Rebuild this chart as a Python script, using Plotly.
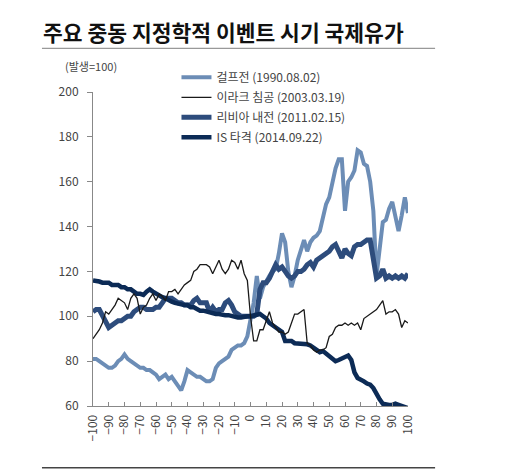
# 주요 중동 지정학적 이벤트 시기 국제유가 (발생일 = 100)
import plotly.graph_objects as go

# 발생일 기준 경과일 (2일 간격)
days = list(range(-100, 101, 2))

# 걸프전 (1990.08.02)
gulf = [
    81, 81, 80, 79, 78, 77, 77, 78, 80, 81,
    83, 81, 80, 79, 78, 77, 77, 76, 76, 75,
    74, 72, 73, 74, 72, 73, 71, 69, 67, 71,
    76, 75, 74, 73, 73, 72, 71, 71, 72, 77,
    79, 80, 81, 82, 85, 86, 87, 87, 88, 91,
    98, 106, 118, 108, 113, 116, 118, 120, 121, 128,
    137, 133, 120, 113, 118, 125, 130, 134, 129, 133,
    135, 136, 138, 145, 150, 153, 160, 166, 170, 170,
    147, 160, 162, 165, 174, 173, 168, 167, 160, 147,
    118, 129, 142, 143, 148, 151, 145, 138, 145, 153,
    146,
]

# 이라크 침공 (2003.03.19)
iraq = [
    90, 92, 94, 97, 102, 101, 103, 105, 108, 107,
    106, 103, 108, 110, 108, 101, 104, 105, 108, 110,
    107, 110, 109, 107, 111, 111, 112, 110, 112, 114,
    115, 116, 120, 121, 123, 123, 123, 122, 119, 122,
    125, 121, 119, 121, 125, 124, 121, 125, 119, 116,
    100, 89, 89, 94, 94, 98, 102, 97, 95, 93,
    93, 92, 93, 97, 101, 101, 102, 103, 88, 87,
    85, 84, 85, 85, 86, 91, 92, 95, 96, 96,
    97, 96, 97, 96, 97, 94, 99, 100, 101, 102,
    103, 105, 107, 101, 102, 102, 103, 101, 95, 98,
    97,
]

# 리비아 내전 (2011.02.15)
libya = [
    102, 103, 103, 100, 97, 95, 96, 97, 98, 98,
    99, 100, 100, 102, 103, 104, 104, 103, 103, 103,
    104, 104, 106, 108, 108, 108, 107, 106, 106, 105,
    105, 105, 107, 108, 106, 106, 106, 102, 104, 102,
    103, 103, 106, 107, 105, 102, 101, 100, 100, 100,
    100, 100, 101, 112, 115, 115, 117, 120, 123, 121,
    122, 120, 118, 117, 118, 120, 120, 121, 123, 124,
    122, 125, 126, 127, 128, 129, 131, 132, 129, 126,
    130, 128, 127, 131, 132, 132, 133, 134, 134, 124,
    117, 118, 121, 117, 118, 117, 118, 117, 118, 117,
    119,
]

# IS 타격 (2014.09.22)
isis = [
    116, 116, 115.5, 115, 115, 115, 114, 114, 114, 113,
    113, 112, 112, 111, 110, 110, 109.5, 111, 112, 111,
    110, 109, 108.5, 108, 107, 106.5, 106, 105.5, 105.5, 105,
    105, 104, 104, 103, 102.5, 102.5, 102, 102, 101.5, 101,
    101, 100.5, 100.5, 100.5, 100, 100, 99.5, 99.5, 100, 100,
    100, 100.5, 101, 101, 100, 99, 97, 96, 95, 94,
    93, 89, 89, 89, 88, 88, 87.5, 87.5, 87.5, 87,
    86, 85, 84, 84.5, 83.5, 82.5, 81, 80, 80.5, 81,
    81.5, 82.5, 80.5, 75, 72.5, 72, 71, 70, 69.5, 68,
    65, 63, 61, 60.5, 60.5, 60.5, 61, 60.5, 60, 59.5,
    59,
]

fig = go.Figure()

# 그리는 순서: 굵은 선 먼저, 검은 가는 선은 맨 위
fig.add_trace(go.Scatter(x=days, y=gulf, mode="lines", name="걸프전 (1990.08.02)",
                         line=dict(color="#6C8DB6", width=4),
                         legendgroup="g1", legendrank=1))
fig.add_trace(go.Scatter(x=days, y=libya, mode="lines", name="리비아 내전 (2011.02.15)",
                         line=dict(color="#2D4C7C", width=5),
                         legendgroup="g3", legendrank=3))
fig.add_trace(go.Scatter(x=days, y=isis, mode="lines", name="IS 타격 (2014.09.22)",
                         line=dict(color="#0C2B56", width=4.5),
                         legendgroup="g4", legendrank=4))
fig.add_trace(go.Scatter(x=days, y=iraq, mode="lines", name="이라크 침공 (2003.03.19)",
                         line=dict(color="#1A1A1A", width=1.3),
                         legendgroup="g2", legendrank=2))

font_kr = "Noto Sans CJK KR"

# 페이지 기본 여백(8px)만큼 그림을 작게 잡음
fig.update_layout(
    width=500,
    height=462,
    margin=dict(l=85, r=100, t=84, b=64, autoexpand=False),
    paper_bgcolor="white",
    plot_bgcolor="white",
    font=dict(family=font_kr, size=12, color="#444"),
    showlegend=True,
    legend=dict(
        x=0.265, y=1.093, xanchor="left", yanchor="top",
        bgcolor="rgba(0,0,0,0)",
        font=dict(size=12, color="#444"),
        traceorder="grouped",
        tracegroupgap=1,
    ),
    xaxis=dict(
        range=[-100, 100],
        tickmode="linear", tick0=-100, dtick=10,
        tickangle=-90,
        ticks="inside", ticklen=4, tickcolor="#888",
        ticklabelstandoff=3,
        showline=True, linecolor="#888", linewidth=1,
        showgrid=False, zeroline=False,
        tickfont=dict(size=12, color="#444"),
    ),
    yaxis=dict(
        range=[60, 200],
        tickmode="linear", tick0=60, dtick=20,
        ticks="outside", ticklen=5, tickcolor="#888",
        ticklabelstandoff=6,
        showline=True, linecolor="#888", linewidth=1,
        showgrid=False, zeroline=False,
        tickfont=dict(size=12, color="#444"),
    ),
    annotations=[
        dict(text="<b>주요 중동 지정학적 이벤트 시기 국제유가</b>",
             xref="paper", yref="paper", x=-0.165, y=1.194,
             xanchor="left", yanchor="middle", showarrow=False,
             font=dict(family=font_kr, size=21.5, color="#111")),
        dict(text="(발생=100)",
             xref="paper", yref="paper", x=-0.095, y=1.083,
             xanchor="left", yanchor="middle", showarrow=False,
             font=dict(family=font_kr, size=11, color="#444")),
    ],
    shapes=[
        # 제목 아래 구분선
        dict(type="line", xref="paper", yref="paper",
             x0=-0.162, x1=1.086, y0=1.139, y1=1.139,
             line=dict(color="#999", width=1.2)),
        # 하단 구분선
        dict(type="line", xref="paper", yref="paper",
             x0=-0.162, x1=1.086, y0=-0.197, y1=-0.197,
             line=dict(color="#444", width=1.5)),
        # 오른쪽 회색 띠
        dict(type="rect", xref="paper", yref="paper",
             x0=1.298, x1=1.33, y0=-0.25, y1=1.3,
             fillcolor="#E9EAEE", line=dict(width=0), layer="above"),
    ],
)

fig.write_html("out.html")
